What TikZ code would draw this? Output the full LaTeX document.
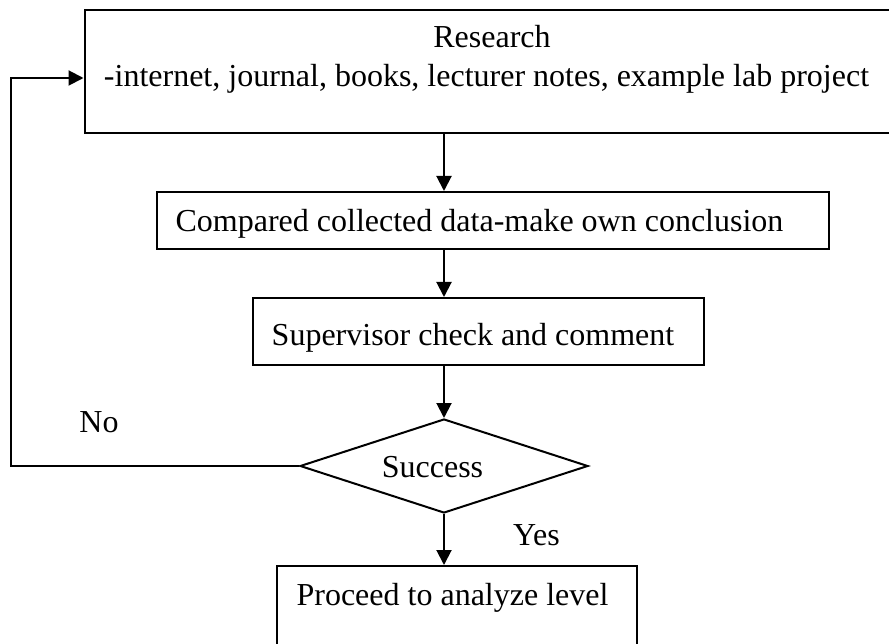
\documentclass[tikz,border=0pt]{standalone}
\usepackage{fontspec}
\setmainfont{Liberation Serif}
\usetikzlibrary{shapes.geometric,arrows.meta}
\begin{document}
\begin{tikzpicture}[x=1pt,y=-1pt,
  box/.style={draw, line width=2pt, rectangle, inner sep=0pt, anchor=north west},
  decision/.style={draw, line width=2pt, diamond, inner sep=0pt},
  txt/.style={anchor=base, inner sep=0pt, font=\fontsize{32}{38}\selectfont},
  arr/.style={line width=2pt, -{Triangle[length=15pt,width=15pt]}},
  con/.style={line width=2pt}]
\useasboundingbox (0,0) rectangle (889,644);
% boxes
\node[box, minimum width=811.5pt, minimum height=123pt] (b1) at (83.5,9) {};
\node[box, minimum width=672pt, minimum height=57pt] (b2) at (156,191) {};
\node[box, minimum width=451pt, minimum height=67pt] (b3) at (252,297) {};
\node[decision, minimum width=288pt, minimum height=94pt, aspect=3.06] (dia) at (444,466) {};
\node[box, minimum width=360pt, minimum height=100pt] (b5) at (276,565) {};
% texts
\node[txt] (t1a) at (492,48) {Research};
\node[txt] (t1b) at (486.5,87) {-internet, journal, books, lecturer notes, example lab project};
\node[txt] (t2) at (479.5,232) {Compared collected data-make own conclusion};
\node[txt] (t3) at (473,345) {Supervisor check and comment};
\node[txt] (t4) at (432.5,477) {Success};
\node[txt] (tno) at (99,432) {No};
\node[txt] (tyes) at (536.5,545) {Yes};
\node[txt] (t5) at (452.5,605) {Proceed to analyze level};
% connectors
\coordinate (ly) at (0,78);
\draw[arr] (b1.south -| dia.north) -- (b2.north -| dia.north);
\draw[arr] (b2.south -| dia.north) -- (b3.north -| dia.north);
\draw[arr] (b3.south -| dia.north) -- (dia.north);
\draw[arr] (dia.south) -- (b5.north -| dia.south);
\draw[arr] (dia.west) -- ++(-288,0) |- (b1.west |- ly);
\end{tikzpicture}
\end{document}
